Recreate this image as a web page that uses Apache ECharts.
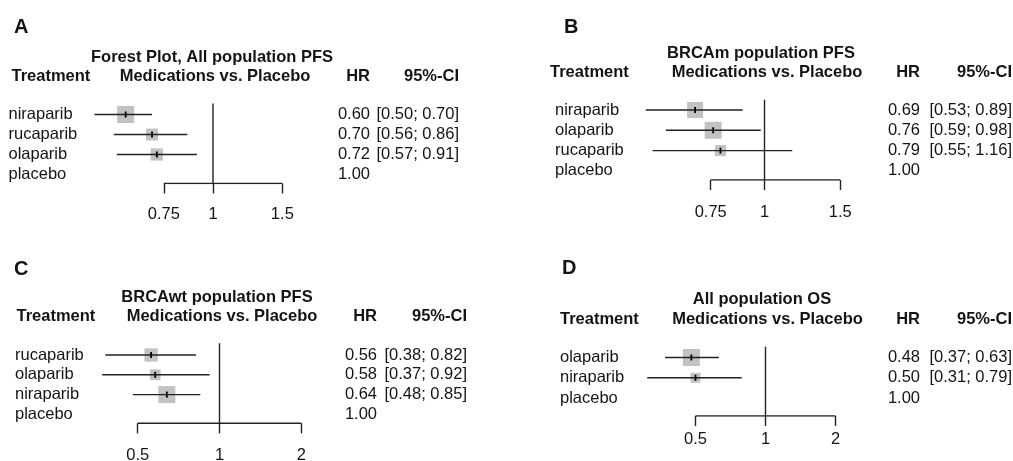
<!DOCTYPE html>
<html><head><meta charset="utf-8">
<script src="https://cdn.jsdelivr.net/npm/echarts@6/dist/echarts.min.js"></script>
<style>html,body{margin:0;padding:0;background:#fff}#c{width:1013px;height:461px}</style>
</head><body><div id="c"></div>
<script>
// ---------- DATA ----------
const panelLetters = ['A', 'B', 'C', 'D'];
const panelTitles = ['Forest Plot, All population PFS', 'BRCAm population PFS', 'BRCAwt population PFS', 'All population OS'];
const headerTreatment = 'Treatment';
const headerEffect = 'Medications vs. Placebo';
const headerHR = 'HR';
const headerCI = '95%-CI';

const namesA = ['niraparib', 'rucaparib', 'olaparib', 'placebo'];
const hrA = [0.60, 0.70, 0.72, 1.00];
const lowerA = [0.50, 0.56, 0.57, null];
const upperA = [0.70, 0.86, 0.91, null];
const weightA = [1.00, 0.70, 0.72, 0];
const ticksA = [0.75, 1, 1.5];

const namesB = ['niraparib', 'olaparib', 'rucaparib', 'placebo'];
const hrB = [0.69, 0.76, 0.79, 1.00];
const lowerB = [0.53, 0.59, 0.55, null];
const upperB = [0.89, 0.98, 1.16, null];
const weightB = [0.94, 1.00, 0.65, 0];
const ticksB = [0.75, 1, 1.5];

const namesC = ['rucaparib', 'olaparib', 'niraparib', 'placebo'];
const hrC = [0.56, 0.58, 0.64, 1.00];
const lowerC = [0.38, 0.37, 0.48, null];
const upperC = [0.82, 0.92, 0.85, null];
const weightC = [0.78, 0.63, 1.00, 0];
const ticksC = [0.5, 1, 2];

const namesD = ['olaparib', 'niraparib', 'placebo'];
const hrD = [0.48, 0.50, 1.00];
const lowerD = [0.37, 0.31, null];
const upperD = [0.63, 0.79, null];
const weightD = [1.00, 0.58, 0];
const ticksD = [0.5, 1, 2];

// ---------- LAYOUT / STYLE ----------
const FONT = '"Liberation Sans", Arial, sans-serif';
const FS = 16.5;
const INK = '#141414';
const LINE = '#222222';
const BOX = '#c2c2c2';
const BOX_PX = 17;

const layouts = [
  {x1: 213, scale: 171, gridL: 90, gridR: 330, row0: 114.5, step: 20, axisRow: 3.45, refTop: -0.55,
   nameX: 8.5, hrRight: 370, ciRight: 459, tickMargin: 22,
   titleX: 212, titleY: 57, line2Y: 76, medX: 215, treatX: 11.5, letterX: 14, letterY: 27.5},
  {x1: 764.5, scale: 187, gridL: 640, gridR: 880, row0: 110, step: 20.3, axisRow: 3.45, refTop: -0.5,
   nameX: 555, hrRight: 920, ciRight: 1012, tickMargin: 23.5,
   titleX: 761, titleY: 53, line2Y: 72.5, medX: 767, treatX: 550, letterX: 564, letterY: 27.5},
  {x1: 219.5, scale: 118, gridL: 95, gridR: 330, row0: 355, step: 19.8, axisRow: 3.45, refTop: -0.59,
   nameX: 15, hrRight: 377, ciRight: 467, tickMargin: 23.5,
   titleX: 217, titleY: 297.5, line2Y: 316, medX: 222, treatX: 16.5, letterX: 14, letterY: 269},
  {x1: 765.5, scale: 101, gridL: 640, gridR: 880, row0: 357.5, step: 20.3, axisRow: 2.88, refTop: -0.53,
   nameX: 560, hrRight: 920, ciRight: 1012, tickMargin: 14.5,
   titleX: 762, titleY: 299, line2Y: 319, medX: 767.5, treatX: 560, letterX: 562, letterY: 268.5}
];

const panels = [
  {names: namesA, hr: hrA, lo: lowerA, hi: upperA, w: weightA, ticks: ticksA},
  {names: namesB, hr: hrB, lo: lowerB, hi: upperB, w: weightB, ticks: ticksB},
  {names: namesC, hr: hrC, lo: lowerC, hi: upperC, w: weightC, ticks: ticksC},
  {names: namesD, hr: hrD, lo: lowerD, hi: upperD, w: weightD, ticks: ticksD}
];

const grids = [], xAxes = [], yAxes = [], series = [], graphics = [];

function txt(x, y, text, align, bold, size) {
  return {type: 'text', x: x, y: y, silent: true,
    style: {text: text, font: (bold ? 'bold ' : '') + size + 'px ' + FONT, fill: INK,
      align: align, textAlign: align, verticalAlign: 'middle', textVerticalAlign: 'middle'}};
}

panels.forEach(function (p, k) {
  const L = layouts[k];
  const idx = p.names.map(function (_, i) { return i; });
  const tickLn = p.ticks.map(Math.log);
  grids.push({left: L.gridL, width: L.gridR - L.gridL, top: L.row0 - L.step,
    height: L.step * (L.axisRow + 1), containLabel: false, outerBoundsMode: 'none'});
  xAxes.push({gridIndex: k, type: 'value', position: 'bottom',
    min: (L.gridL - L.x1) / L.scale, max: (L.gridR - L.x1) / L.scale,
    axisLine: {show: false, onZero: false}, splitLine: {show: false},
    axisTick: {show: true, customValues: tickLn, length: 10, lineStyle: {color: LINE, width: 1.4}},
    axisLabel: {customValues: tickLn, margin: L.tickMargin, fontSize: FS, fontFamily: FONT, color: INK,
      formatter: function (v) {
        for (let t of p.ticks) { if (Math.abs(Math.log(t) - v) < 1e-6) return String(t); }
        return '';
      }}
  });
  const yBase = {gridIndex: k, type: 'value', inverse: true, min: -1, max: L.axisRow,
    axisLine: {show: false, onZero: false}, axisTick: {show: false}, splitLine: {show: false}};
  yAxes.push(Object.assign({}, yBase, {position: 'left',
    axisLabel: {customValues: idx, align: 'left', margin: L.gridL - L.nameX, fontSize: FS, fontFamily: FONT, color: INK,
      formatter: function (v) { return p.names[Math.round(v)] || ''; }}}));
  yAxes.push(Object.assign({}, yBase, {position: 'right',
    axisLabel: {customValues: idx, align: 'right', margin: L.hrRight - L.gridR, fontSize: FS, fontFamily: FONT, color: INK,
      formatter: function (v) { const i = Math.round(v); return p.hr[i] == null ? '' : p.hr[i].toFixed(2); }}}));
  yAxes.push(Object.assign({}, yBase, {position: 'right',
    axisLabel: {customValues: idx, align: 'right', margin: L.ciRight - L.gridR, fontSize: FS, fontFamily: FONT, color: INK,
      formatter: function (v) {
        const i = Math.round(v);
        return p.lo[i] == null ? '' : '[' + p.lo[i].toFixed(2) + '; ' + p.hi[i].toFixed(2) + ']';
      }}}));
  const yi = k * 3;

  // reference line at HR = 1
  series.push({type: 'line', xAxisIndex: k, yAxisIndex: yi, silent: true, symbol: 'none',
    lineStyle: {color: LINE, width: 1.4}, data: [[0, L.refTop], [0, L.axisRow]], animation: false});
  // bracket axis line between first and last tick
  series.push({type: 'line', xAxisIndex: k, yAxisIndex: yi, silent: true, symbol: 'none',
    lineStyle: {color: LINE, width: 1.4},
    data: [[tickLn[0], L.axisRow], [tickLn[tickLn.length - 1], L.axisRow]], animation: false});
  // forest rows
  const rows = [];
  p.names.forEach(function (n, i) {
    if (p.lo[i] != null) rows.push([Math.log(p.hr[i]), Math.log(p.lo[i]), Math.log(p.hi[i]), i, p.w[i]]);
  });
  series.push({type: 'custom', xAxisIndex: k, yAxisIndex: yi, silent: true, animation: false,
    encode: {x: [0, 1, 2], y: 3},
    data: rows,
    renderItem: function (params, api) {
      const row = api.value(3), s = api.value(4) * BOX_PX;
      const c = api.coord([api.value(0), row]);
      const a = api.coord([api.value(1), row]);
      const b = api.coord([api.value(2), row]);
      return {type: 'group', children: [
        {type: 'rect', shape: {x: c[0] - s / 2, y: c[1] - s / 2, width: s, height: s}, style: {fill: BOX}},
        {type: 'line', shape: {x1: a[0], y1: a[1], x2: b[0], y2: b[1]}, style: {stroke: LINE, lineWidth: 1.4}},
        {type: 'line', shape: {x1: c[0], y1: c[1] - 3, x2: c[0], y2: c[1] + 3}, style: {stroke: '#000', lineWidth: 1.8}}
      ]};
    }
  });

  // headers
  graphics.push(txt(L.letterX, L.letterY, panelLetters[k], 'left', true, 20));
  graphics.push(txt(L.titleX, L.titleY, panelTitles[k], 'center', true, FS));
  graphics.push(txt(L.treatX, L.line2Y, headerTreatment, 'left', true, FS));
  graphics.push(txt(L.medX, L.line2Y, headerEffect, 'center', true, FS));
  graphics.push(txt(L.hrRight, L.line2Y, headerHR, 'right', true, FS));
  graphics.push(txt(L.ciRight, L.line2Y, headerCI, 'right', true, FS));
});

const chart = echarts.init(document.getElementById('c'), null, {renderer: 'canvas'});
chart.setOption({
  backgroundColor: '#ffffff',
  animation: false,
  grid: grids,
  xAxis: xAxes,
  yAxis: yAxes,
  series: series,
  graphic: graphics
});
</script>
</body></html>
